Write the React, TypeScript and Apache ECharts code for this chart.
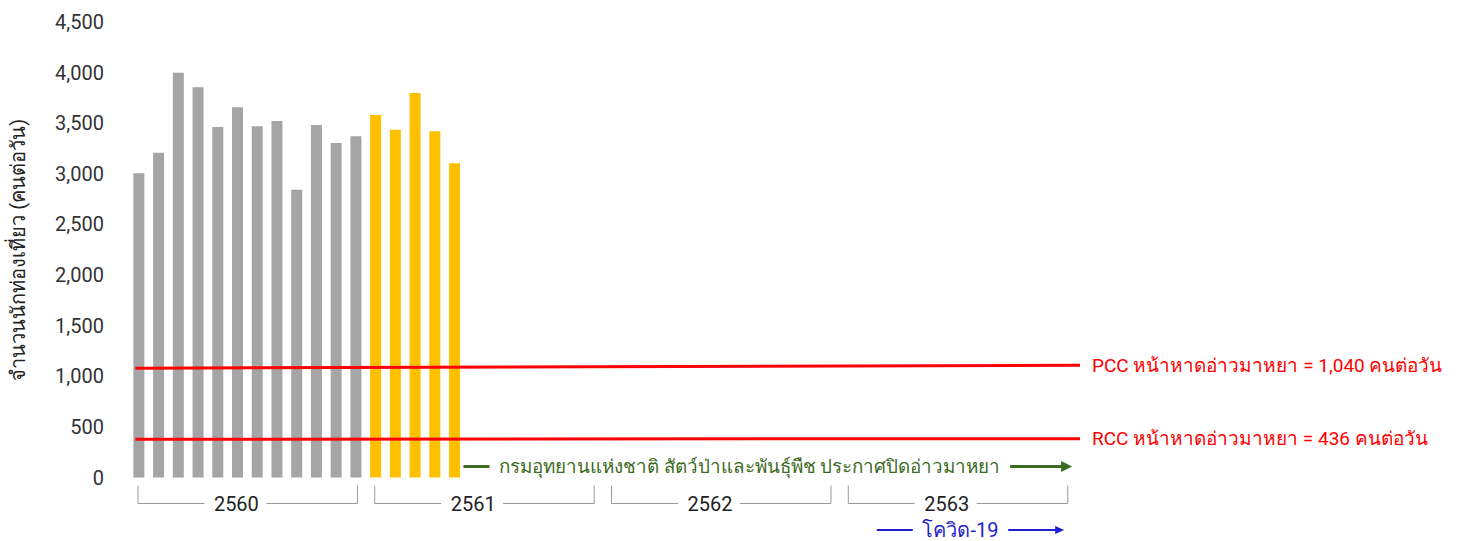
import React, { useEffect, useRef } from "react";
import * as echarts from "echarts";

// ---- data ----
const yearLabels = ["2560", "2561", "2562", "2563"];
const monthsPerYear = 12;
const visitors2560 = [3005, 3209, 3999, 3855, 3463, 3657, 3470, 3522, 2843, 3483, 3305, 3371];
const visitors2561 = [3581, 3436, 3799, 3420, 3104];
const yTicks = [0, 500, 1000, 1500, 2000, 2500, 3000, 3500, 4000, 4500];
const pccLine = [1080, 1108]; // drawn value at start / end
const rccLine = [378, 384];
const pccLabel = "PCC หน้าหาดอ่าวมาหยา = 1,040 คนต่อวัน";
const rccLabel = "RCC หน้าหาดอ่าวมาหยา = 436 คนต่อวัน";
const lineRange = [0.32, 48.2];
const closureRange = [16.95, 47.8];
const closureLabel = "กรมอุทยานแห่งชาติ สัตว์ป่าและพันธุ์พืช ประกาศปิดอ่าวมาหยา";
const covidRange = [37.9, 47.4];
const covidLabel = "โควิด-19";
const yAxisTitle = "จำนวนนักท่องเที่ยว (คนต่อวัน)";

const FONT = 'Roboto, "Noto Sans", sans-serif';

export default function App() {
  const ref = useRef<HTMLDivElement>(null);
  useEffect(() => {
    document.body.style.margin = "0";
    const chart = echarts.init(ref.current!, null, { renderer: "svg" });

    const grayData = visitors2560.map((v, i) => [i + 0.5, v]);
    const yellowData = visitors2561.map((v, i) => [visitors2560.length + i + 0.5, v]);

    const bracketRender = (params: any, api: any) => {
      const i = params.dataIndex;
      const x0 = api.coord([i * monthsPerYear, 0])[0];
      const x1 = api.coord([(i + 1) * monthsPerYear, 0])[0];
      const yb = api.coord([0, 0])[1];
      const left = x0 + 9;
      const right = x1 - 8.3;
      const top = yb + 8;
      const bot = yb + 26;
      const tc = (x0 + x1) / 2 - 11;
      const ls = { stroke: "#9a9a9a", lineWidth: 1, fill: null };
      return {
        type: "group",
        children: [
          { type: "polyline", shape: { points: [[left, top], [left, bot], [tc - 32, bot]] }, style: ls },
          { type: "polyline", shape: { points: [[tc + 30, bot], [right, bot], [right, top]] }, style: ls },
          {
            type: "text",
            style: {
              text: yearLabels[i], x: tc, y: bot, align: "center", verticalAlign: "middle",
              fill: "#222", font: `20px ${FONT}`,
            },
          },
        ],
      };
    };

    const annRender = (cfg: any) => (params: any, api: any) => {
      const xs = api.coord([cfg.range[0], 0])[0];
      const xe = api.coord([cfg.range[1], 0])[0];
      const y = api.coord([0, 0])[1] + cfg.dy;
      const dashEnd = xs + cfg.dash;
      const arrowStart = xe - cfg.arrow;
      const ls = { stroke: cfg.color, lineWidth: cfg.lw, fill: null };
      return {
        type: "group",
        children: [
          { type: "line", shape: { x1: xs, y1: y, x2: dashEnd, y2: y }, style: ls },
          { type: "line", shape: { x1: arrowStart, y1: y, x2: xe - cfg.head + 1, y2: y }, style: ls },
          {
            type: "polygon",
            shape: { points: [[xe - cfg.head, y - cfg.hw], [xe, y], [xe - cfg.head, y + cfg.hw]] },
            style: { fill: cfg.color },
          },
          {
            type: "text",
            style: {
              text: cfg.text, x: (dashEnd + arrowStart) / 2, y, align: "center", verticalAlign: "middle",
              fill: cfg.color, font: `${cfg.fs}px ${FONT}`,
            },
          },
        ],
      };
    };

    const redLabel = (text: string) => ({
      show: true, position: "end", distance: 12, formatter: text, color: "#ff0000",
      fontSize: 19, fontFamily: FONT,
    });

    chart.setOption({
      animation: false,
      grid: { left: 126.6, right: 384, top: 22, bottom: 63.5 },
      xAxis: {
        type: "value", min: 0, max: 48.2, show: false,
      },
      yAxis: {
        type: "value", min: 0, max: 4500, interval: 500,
        axisLine: { show: false }, axisTick: { show: false }, splitLine: { show: false },
        axisLabel: {
          margin: 25, fontSize: 20, color: "#333", fontFamily: FONT,
          formatter: (v: number) => (yTicks.includes(v) ? v.toLocaleString("en-US") : ""),
        },
        name: yAxisTitle, nameLocation: "middle", nameRotate: 90, nameGap: 101,
        nameTextStyle: { fontSize: 20, color: "#222", fontFamily: FONT },
      },
      series: [
        {
          type: "bar", data: grayData, barWidth: 11, itemStyle: { color: "#a5a5a5" },
          markLine: {
            symbol: "none", silent: true,
            lineStyle: { color: "#ff0000", width: 3, type: "solid" },
            data: [
              [{ coord: [lineRange[0], pccLine[0]], label: redLabel(pccLabel) }, { coord: [lineRange[1], pccLine[1]] }],
              [{ coord: [lineRange[0], rccLine[0]], label: redLabel(rccLabel) }, { coord: [lineRange[1], rccLine[1]] }],
            ],
          },
        },
        { type: "bar", data: yellowData, barWidth: 11, barGap: "-100%", itemStyle: { color: "#ffc000" } },
        {
          type: "custom", data: yearLabels.map((_, i) => [i * monthsPerYear, 0]),
          renderItem: bracketRender, silent: true, clip: false,
        },
        {
          type: "custom", data: [[closureRange[0], 0]], silent: true, clip: false,
          renderItem: annRender({
            range: closureRange, dy: -11, dash: 26, arrow: 62, head: 11, hw: 5.5, lw: 3,
            color: "#3b6a22", text: closureLabel, fs: 18.8,
          }),
        },
        {
          type: "custom", data: [[covidRange[0], 0]], silent: true, clip: false,
          renderItem: annRender({
            range: covidRange, dy: 52.5, dash: 36, arrow: 56, head: 9, hw: 4, lw: 2,
            color: "#1f1fcf", text: covidLabel, fs: 20,
          }),
        },
      ],
    });
    return () => chart.dispose();
  }, []);
  return <div ref={ref} style={{ width: 1464, height: 541 }} />;
}
